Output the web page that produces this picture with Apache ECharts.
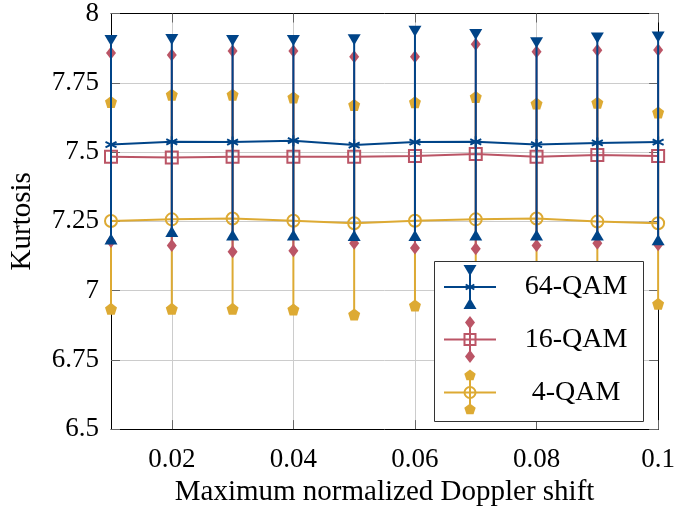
<!DOCTYPE html>
<html><head><meta charset="utf-8">
<script src="https://cdn.jsdelivr.net/npm/echarts@6/dist/echarts.min.js"></script>
<style>html,body{margin:0;padding:0;background:#fff}#c{width:678px;height:512px}</style>
</head><body><div id="c"></div>
<script>
const xValues = [0.01,0.02,0.03,0.04,0.05,0.06,0.07,0.08,0.09,0.1];
const xTicks = [0.02,0.04,0.06,0.08,0.1];
const yTicks = [6.5,6.75,7,7.25,7.5,7.75,8];

const qam64Mean  = [7.527,7.537,7.536,7.541,7.525,7.536,7.537,7.527,7.533,7.536];
const qam64Upper = [7.903,7.906,7.903,7.903,7.905,7.936,7.924,7.894,7.912,7.915];
const qam64Lower = [7.186,7.213,7.201,7.201,7.199,7.199,7.201,7.201,7.201,7.183];

const qam16Mean  = [7.483,7.480,7.483,7.483,7.483,7.486,7.493,7.483,7.489,7.486];
const qam16Upper = [7.857,7.850,7.865,7.865,7.844,7.844,7.889,7.862,7.867,7.868];
const qam16Lower = [7.177,7.163,7.140,7.144,7.171,7.154,7.151,7.163,7.171,7.165];

const qam4Mean  = [7.251,7.257,7.260,7.252,7.243,7.252,7.257,7.260,7.249,7.243];
const qam4Upper = [7.681,7.707,7.707,7.697,7.670,7.680,7.699,7.675,7.678,7.643];
const qam4Lower = [6.934,6.934,6.934,6.932,6.914,6.946,6.940,6.940,6.940,6.952];

const names = ['64-QAM','16-QAM','4-QAM'];
const BLUE = '#004488', RED = '#BB5566', YEL = '#DDAA33';
const FONT = 'Liberation Serif';
const TICK_FS = 27, NAME_FS = 29, LEG_FS = 28;
const PENT = 'path://M0,-1L0.951,-0.309L0.588,0.809L-0.588,0.809L-0.951,-0.309Z';
const AST = 'path://M0,-10L0,10M-8.66,-5L8.66,5M-8.66,5L8.66,-5';

function zip(a,b){ return a.map((v,i)=>[v,b[i]]); }

function groupSeries(name, color, mean, lo, hi, meanSym, meanSize, endUp, endDown, endSize, endRotUp, endRotDown, z){
  return [
    {
      type:'custom', name: name+'-err', z: z,
      data: xValues.map((x,i)=>[x, lo[i], hi[i]]),
      encode:{x:0, y:[1,2]},
      renderItem: function(params, api){
        const a = api.coord([api.value(0), api.value(1)]);
        const b = api.coord([api.value(0), api.value(2)]);
        return {type:'line', shape:{x1:a[0],y1:a[1],x2:b[0],y2:b[1]}, style:{stroke:color, lineWidth:2}};
      },
      silent:true, animation:false
    },
    {
      type:'scatter', name: name+'-hi', z: z, data: zip(xValues, hi),
      symbol: endUp, symbolSize: endSize, symbolRotate: endRotUp,
      itemStyle:{color:color, opacity:1}, animation:false, silent:true
    },
    {
      type:'scatter', name: name+'-lo', z: z, data: zip(xValues, lo),
      symbol: endDown, symbolSize: endSize, symbolRotate: endRotDown,
      itemStyle:{color:color, opacity:1}, animation:false, silent:true
    },
    {
      type:'line', name: name, z: z, data: zip(xValues, mean),
      symbol: meanSym, symbolSize: meanSize, showAllSymbol:true,
      lineStyle:{color:color, width:2},
      itemStyle:{color:'rgba(0,0,0,0)', borderColor:color, borderWidth:2},
      animation:false, silent:true
    }
  ];
}

const series = [].concat(
  groupSeries(names[2], YEL, qam4Mean, qam4Lower, qam4Upper, 'circle', 12, PENT, PENT, 12, 0, 0, 2),
  groupSeries(names[1], RED, qam16Mean, qam16Lower, qam16Upper, 'rect', 12, 'diamond', 'diamond', [10,13], 0, 0, 3),
  groupSeries(names[0], BLUE, qam64Mean, qam64Lower, qam64Upper, AST, 11, 'triangle', 'triangle', [13,11], 180, 0, 4)
);

// legend (drawn with graphic)
const LX = 434, LY = 261, LW = 209, LH = 160;
const rows = [
  {name:names[0], color:BLUE, cy:287, end:'tri'},
  {name:names[1], color:RED, cy:339.5, end:'dia'},
  {name:names[2], color:YEL, cy:392.5, end:'pent'}
];
const gfx = [{type:'rect', z:100, shape:{x:LX+0.5,y:LY+0.5,width:LW,height:LH}, style:{fill:'#fff', stroke:'#333', lineWidth:1}}];
rows.forEach((r,idx)=>{
  const cx = 470, cy = r.cy;
  gfx.push({type:'line', z:101, shape:{x1:444,y1:cy,x2:496,y2:cy}, style:{stroke:r.color, lineWidth:2}});
  gfx.push({type:'line', z:101, shape:{x1:cx,y1:cy-17,x2:cx,y2:cy+17}, style:{stroke:r.color, lineWidth:2}});
  if(r.end==='tri'){
    gfx.push({type:'polygon', z:102, shape:{points:[[cx-6.5,cy-22],[cx+6.5,cy-22],[cx,cy-11]]}, style:{fill:r.color}});
    gfx.push({type:'polygon', z:102, shape:{points:[[cx-6.5,cy+22],[cx+6.5,cy+22],[cx,cy+11]]}, style:{fill:r.color}});
    gfx.push({type:'line', z:102, shape:{x1:cx-4.3,y1:cy-2.5,x2:cx+4.3,y2:cy+2.5}, style:{stroke:r.color, lineWidth:2}});
    gfx.push({type:'line', z:102, shape:{x1:cx-4.3,y1:cy+2.5,x2:cx+4.3,y2:cy-2.5}, style:{stroke:r.color, lineWidth:2}});
  } else if(r.end==='dia'){
    [-17,17].forEach(d=>gfx.push({type:'polygon', z:102, shape:{points:[[cx,cy+d-6.5],[cx+5,cy+d],[cx,cy+d+6.5],[cx-5,cy+d]]}, style:{fill:r.color}}));
    gfx.push({type:'rect', z:102, shape:{x:cx-5.5,y:cy-5.5,width:11,height:11}, style:{stroke:r.color, lineWidth:2, fill:'rgba(0,0,0,0)'}});
  } else {
    [-17,17].forEach(d=>{
      const pts=[]; for(let k=0;k<5;k++){const ang=-Math.PI/2+k*2*Math.PI/5; pts.push([cx+6*Math.cos(ang), cy+d+6*Math.sin(ang)]);}
      gfx.push({type:'polygon', z:102, shape:{points:pts}, style:{fill:r.color}});
    });
    gfx.push({type:'circle', z:102, shape:{cx:cx,cy:cy,r:5.5}, style:{stroke:r.color, lineWidth:2, fill:'rgba(0,0,0,0)'}});
  }
  gfx.push({type:'text', z:103, x:576, y:cy, style:{text:r.name, font:LEG_FS+'px "'+FONT+'"', fill:'#000', align:'center', verticalAlign:'middle'}});
});

const grid = {left:110, right:16.5, top:12, bottom:78};
const fmt = v => String(+(+v).toFixed(2));
const option = {
  backgroundColor:'#fff',
  animation:false,
  textStyle:{fontFamily:FONT},
  grid: grid,
  xAxis: [
    {type:'value', min:0.01, max:0.1, position:'bottom',
     name:'Maximum normalized Doppler shift', nameLocation:'middle', nameGap:46,
     nameTextStyle:{fontFamily:FONT, fontSize:NAME_FS, color:'#000'},
     axisLine:{show:true, lineStyle:{color:'#000', width:1}},
     axisTick:{show:true, inside:true, length:9, customValues:xTicks, lineStyle:{color:'#666', width:1}},
     axisLabel:{customValues:xTicks, formatter:fmt, fontFamily:FONT, fontSize:TICK_FS, color:'#000', margin:17},
     splitLine:{show:true, lineStyle:{color:'#cccccc', width:1}}},
    {type:'value', min:0.01, max:0.1, position:'top',
     axisLine:{show:true, lineStyle:{color:'#000', width:1}},
     axisTick:{show:true, inside:true, length:9, customValues:xTicks, lineStyle:{color:'#666', width:1}},
     axisLabel:{show:false}, splitLine:{show:false}}
  ],
  yAxis: [
    {type:'value', min:6.5, max:8, interval:0.25, position:'left',
     name:'Kurtosis', nameLocation:'middle', nameGap:74, nameRotate:90,
     nameTextStyle:{fontFamily:FONT, fontSize:NAME_FS, color:'#000'},
     axisLine:{show:true, lineStyle:{color:'#000', width:1}},
     axisTick:{show:true, inside:true, length:9, lineStyle:{color:'#666', width:1}},
     axisLabel:{formatter:fmt, fontFamily:FONT, fontSize:TICK_FS, color:'#000', margin:12},
     splitLine:{show:true, lineStyle:{color:'#cccccc', width:1}}},
    {type:'value', min:6.5, max:8, interval:0.25, position:'right',
     axisLine:{show:true, lineStyle:{color:'#000', width:1}},
     axisTick:{show:true, inside:true, length:9, lineStyle:{color:'#666', width:1}},
     axisLabel:{show:false}, splitLine:{show:false}}
  ],
  graphic: gfx,
  series: series
};
const chart = echarts.init(document.getElementById('c'), null, {renderer:'canvas'});
chart.setOption(option);
</script>
</body></html>
